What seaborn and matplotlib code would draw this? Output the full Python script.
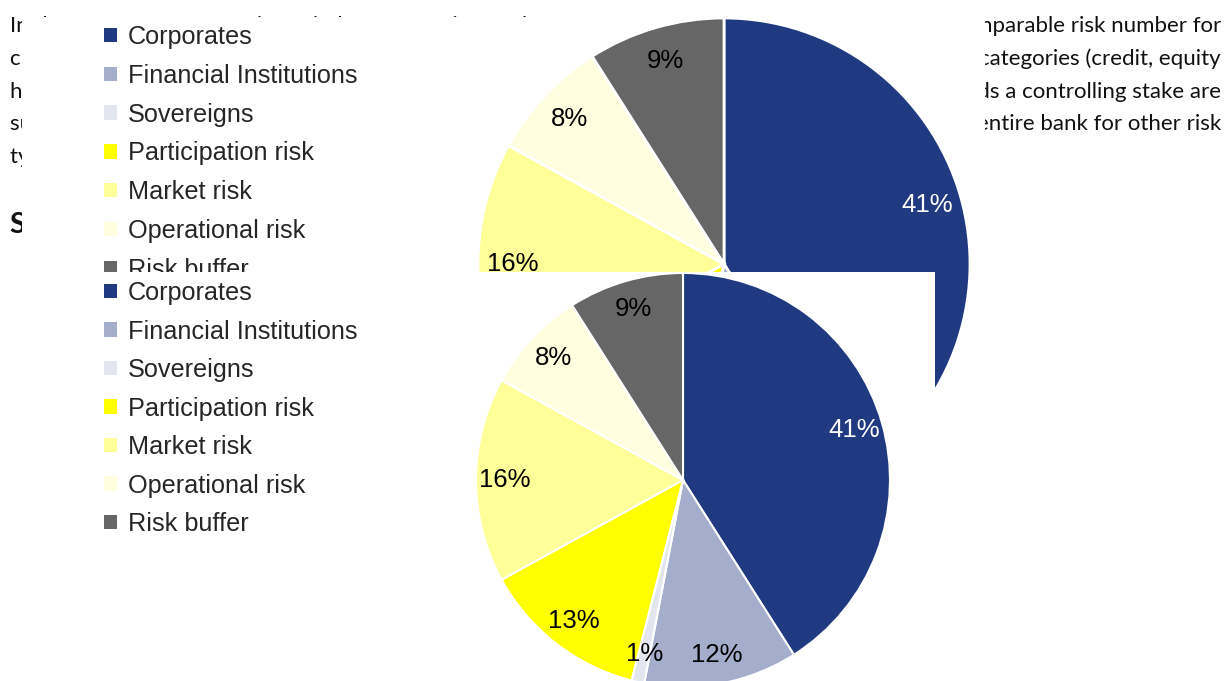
import matplotlib
matplotlib.use("Agg")
import matplotlib.pyplot as plt
from matplotlib.patches import Patch
import seaborn as sns

# Economic capital split by risk category (percent of total)
categories = ["Corporates", "Financial Institutions", "Sovereigns",
              "Participation risk", "Market risk", "Operational risk", "Risk buffer"]
shares = [41, 12, 1, 13, 16, 8, 9]
hex_colors = ["#1F3A80", "#A4ADCB", "#E4E6EF", "#FFFF00", "#FFFF99", "#FFFFE0", "#666666"]
label_colors = ["white", "black", "black", "black", "black", "black", "black"]

# Surrounding report text
body_left = ["In the context of economic capital we use an internal",
             "credit risk, market risk and operational risk are",
             "holdings of the bank and its subsidiaries in which",
             "subsidiaries in which the bank holds",
             "types of risk are taken into account."]
body_right = ["comparable risk number for",
              "categories (credit, equity",
              "holds a controlling stake are",
              "the entire bank for other risk"]
heading = "Structure of economic capital"

sns.set_theme(style="white")
plt.rcParams["font.family"] = ["Liberation Sans", "DejaVu Sans"]
palette = sns.color_palette(hex_colors)

W, H = 1224, 681
fig = plt.figure(figsize=(W / 100, H / 100), dpi=100, facecolor="white")

# report body text sits beneath the chart panels
page_font = ["Lato", "DejaVu Sans"]
for i, line in enumerate(body_left):
    fig.text(10 / W, 1 - (32 + i * 32.8) / H, line, ha="left", va="baseline",
             fontsize=16, family=page_font, color="#111111", zorder=-1)
for i, line in enumerate(body_right):
    fig.text(1221 / W, 1 - (32 + i * 32.8) / H, line, ha="right", va="baseline",
             fontsize=16, family=page_font, color="#111111", zorder=-1)
fig.text(10 / W, 1 - 233 / H, heading, ha="left", va="baseline",
         fontsize=21, fontweight="bold", family=page_font, color="#111111", zorder=-1)


def panel(x0, x1, y_top, y_bot, cx, cy, radius, legend_top, lw, spacing):
    ax = fig.add_axes([x0 / W, 1 - y_bot / H, (x1 - x0) / W, (y_bot - y_top) / H])
    ax.set_facecolor("white")
    wedges, texts, autotexts = ax.pie(
        shares, colors=palette, startangle=90, counterclock=False,
        center=(cx, H - cy), radius=radius, frame=True,
        autopct=lambda p: f"{p:.0f}%", pctdistance=0.86,
        wedgeprops=dict(edgecolor="white", linewidth=lw),
        textprops=dict(fontsize=18.5))
    for t, c in zip(autotexts, label_colors):
        t.set_color(c)
    ax.set_xlim(x0, x1)
    ax.set_ylim(H - y_bot, H - y_top)
    ax.set_aspect("auto")
    ax.set_xticks([])
    ax.set_yticks([])
    for s in ax.spines.values():
        s.set_visible(False)
    handles = [Patch(facecolor=c, edgecolor="none") for c in palette]
    ax.legend(handles, categories, loc="upper left",
              bbox_to_anchor=(104 / W, 1 - legend_top / H),
              bbox_transform=fig.transFigure, frameon=False,
              fontsize=18.2, borderpad=0, borderaxespad=0,
              handlelength=0.5, handleheight=0.5, handletextpad=0.45,
              labelspacing=spacing)
    return ax


# two stacked renderings of the same pie
panel(22, 985, 17, 640, 724, 264, 246, 25, 2.0, 0.585)
panel(22, 935, 272, 681, 683, 480, 207, 281, 1.5, 0.575)

fig.savefig("out.png", dpi=100, facecolor="white")
